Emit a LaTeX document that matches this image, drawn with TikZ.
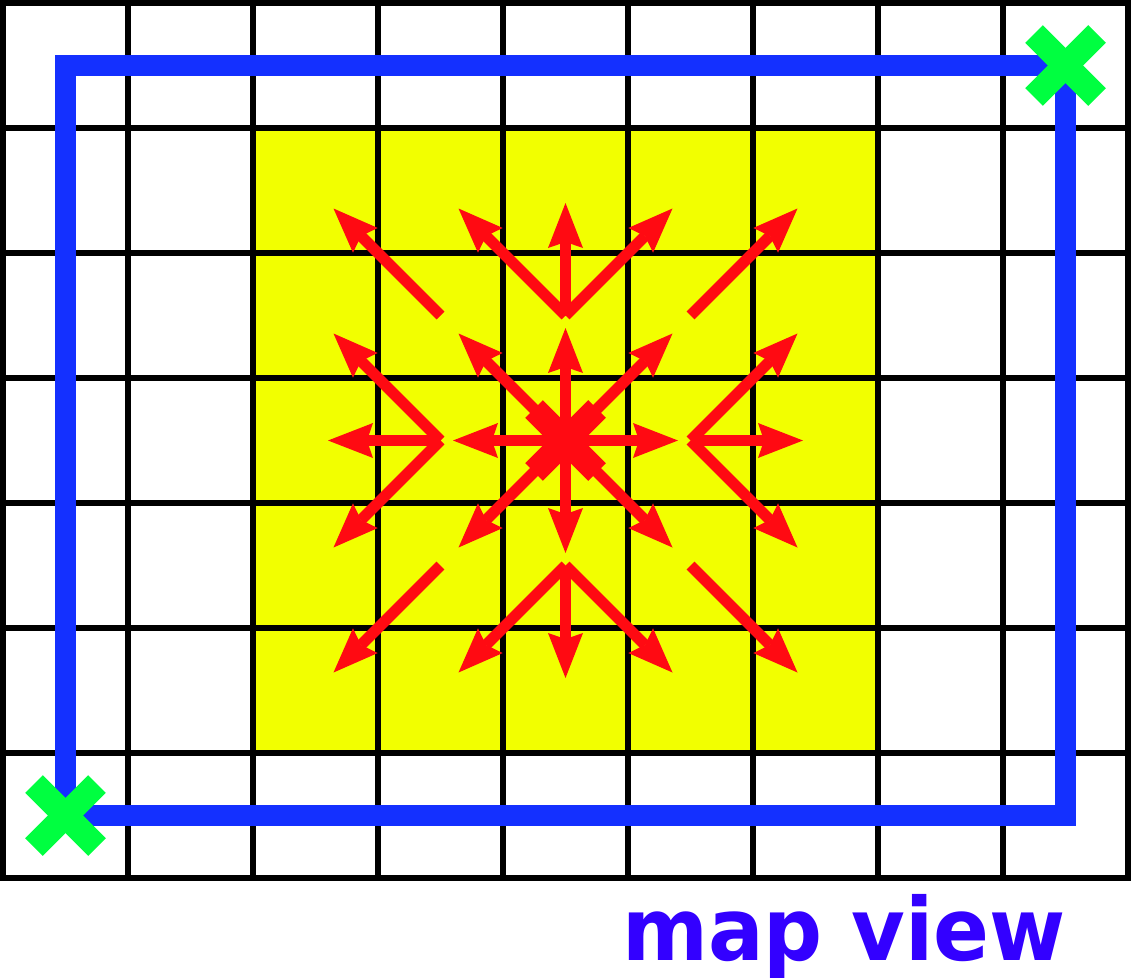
\documentclass[tikz,border=0pt]{standalone}
\usepackage{fontspec}
\newfontfamily\labelfont{DejaVu Sans}
\usetikzlibrary{arrows.meta}
\definecolor{cellyellow}{RGB}{242,255,0}
\definecolor{pathblue}{RGB}{20,48,255}
\definecolor{markgreen}{RGB}{0,255,64}
\definecolor{arrowred}{RGB}{255,10,18}
\definecolor{textblue}{RGB}{51,0,255}
\begin{document}
\begin{tikzpicture}[x=1pt,y=-1pt,
  gridline/.style={line width=6pt, draw=black, line cap=rect},
  pathline/.style={line width=21pt, draw=pathblue, line join=miter},
  xmark/.style={line width=25pt, line cap=butt},
  arr/.style={draw=arrowred, line width=11pt, line cap=butt,
    -{Stealth[length=45pt,width=35pt,inset=6pt,line width=0pt]}},
  lbl/.style={font=\labelfont\bfseries\fontsize{87}{87}\selectfont, text=textblue, inner sep=0pt, anchor=base west}]
\useasboundingbox (0,0) rectangle (1131,977);
\fill[white] (0,0) rectangle (1131,977);
% yellow region
\fill[cellyellow] (253,128) rectangle (878,753);
% grid
\foreach \i in {0,...,9} \draw[gridline] ({3+125*\i},3) -- ({3+125*\i},878);
\foreach \j in {0,...,7} \draw[gridline] (3,{3+125*\j}) -- (1128,{3+125*\j});
% blue path
\coordinate (start) at (65.5,815.5);
\coordinate (goal) at (1065.5,65.5);
\draw[pathline] (start) rectangle (goal);
% green markers
\foreach \p in {start,goal} {
  \draw[xmark, draw=markgreen] (\p) ++(-31.5,-31.5) -- ++(63,63);
  \draw[xmark, draw=markgreen] (\p) ++(31.5,-31.5) -- ++(-63,63);
}
% red arrows
\coordinate (C) at (565.5,440.5);
\coordinate (N) at (565.5,315.5);
\coordinate (S) at (565.5,565.5);
\coordinate (W) at (440.5,440.5);
\coordinate (E) at (690.5,440.5);
\coordinate (NW) at (440.5,315.5);
\coordinate (NE) at (690.5,315.5);
\coordinate (SW) at (440.5,565.5);
\coordinate (SE) at (690.5,565.5);
\draw[xmark, draw=arrowred] (C) ++(-31.5,-31.5) -- ++(63,63);
\draw[xmark, draw=arrowred] (C) ++(31.5,-31.5) -- ++(-63,63);
\foreach \p/\dx/\dy in {
  C/0/-112.5, C/0/112.5, C/-112.5/0, C/112.5/0,
  C/-107/-107, C/107/-107, C/-107/107, C/107/107,
  N/-107/-107, N/0/-112.5, N/107/-107,
  S/-107/107, S/0/112.5, S/107/107,
  W/-107/-107, W/-112.5/0, W/-107/107,
  E/107/-107, E/112.5/0, E/107/107,
  NW/-107/-107, NE/107/-107, SW/-107/107, SE/107/107}
  \draw[arr] (\p) -- ++(\dx,\dy);
% label
\node[lbl] (label) at (622,960) {\scalebox{0.948}[1]{map view}};
\end{tikzpicture}
\end{document}
